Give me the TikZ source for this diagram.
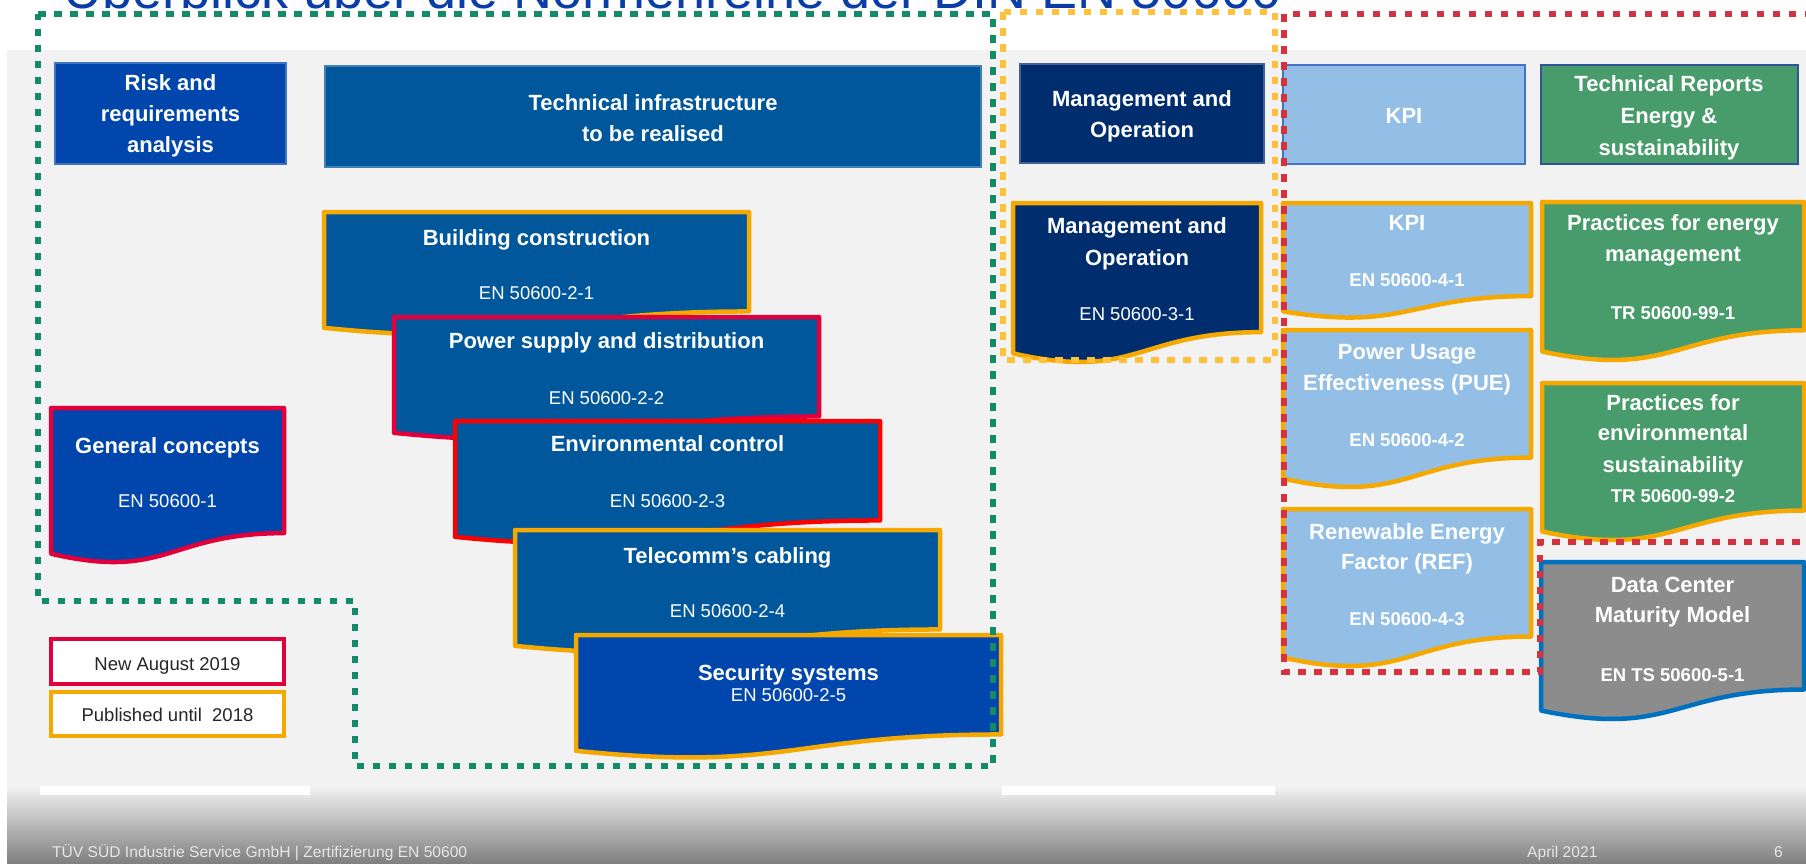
\documentclass[tikz,border=0pt]{standalone}
\usepackage{fontspec}
\setmainfont{Liberation Sans}
\definecolor{cTech}{HTML}{00579B}
\definecolor{cRoyal}{HTML}{0046AD}
\definecolor{cNavy}{HTML}{002D6E}
\definecolor{cLight}{HTML}{93BFE6}
\definecolor{cGreen}{HTML}{489B6A}
\definecolor{cGray}{HTML}{8C8C8C}
\definecolor{cOrange}{HTML}{F5A800}
\definecolor{cCrimson}{HTML}{E2003C}
\definecolor{cRed}{HTML}{FF0000}
\definecolor{cDCBlue}{HTML}{0070C0}
\definecolor{cDotGreen}{HTML}{138A68}
\definecolor{cDotYellow}{HTML}{FFC13B}
\definecolor{cDotRed}{HTML}{D7313F}
\definecolor{cBg}{HTML}{F2F2F2}
\definecolor{cTitle}{HTML}{0A3DA8}
\definecolor{cFootDark}{HTML}{808080}
\definecolor{cFootText}{HTML}{E6E6E6}
\definecolor{cKPIBorder}{HTML}{4472C4}
\definecolor{cTRBorder}{HTML}{2F5597}
\definecolor{cLegText}{HTML}{262626}
% document shape: x y w h options
\newcommand\DocBox[5]{%
  \draw[#5] (#1,#2) -- ({#1+#3},#2) -- ({#1+#3},{#2+0.802*#4})
    .. controls ({#1+0.5*#3},{#2+0.802*#4}) and ({#1+0.5*#3},{#2+1.1075*#4}) ..
    (#1,{#2+0.934*#4}) -- cycle;}
\tikzset{
  docb/.style={line width=4.5pt, line join=round},
  hdrbox/.style={line width=1.5pt},
  tl/.style={text=white, inner sep=0pt, anchor=base, font=\fontsize{22}{26}\selectfont\bfseries},
  cd/.style={text=white, inner sep=0pt, anchor=base, font=\fontsize{18.5}{22}\selectfont},
  cdb/.style={text=white, inner sep=0pt, anchor=base, font=\fontsize{18.5}{22}\selectfont\bfseries},
  legtext/.style={text=cLegText, inner sep=0pt, anchor=base, font=\fontsize{18.5}{22}\selectfont},
  foottext/.style={text=cFootText, inner sep=0pt, anchor=base west, font=\fontsize{15.6}{18}\selectfont},
  dotline/.style={line width=6.5pt, dash pattern=on 7.5pt off 8.5pt},
}
\begin{document}
\begin{tikzpicture}[x=1pt,y=-1pt]
\useasboundingbox (0,0) rectangle (1806,863);
% backgrounds
\fill[white] (0,0) rectangle (1806,863);
\fill[cBg] (7,50) rectangle (1806,787);
\shade[top color=cBg, bottom color=cFootDark] (7,786) rectangle (1806,863);
\fill[white] (40,786) rectangle (310,795);
\fill[white] (1002,786) rectangle (1275,795);
% title (cut at top, as in the slide)
\node[anchor=base west, inner sep=0pt, text=cTitle, font=\fontsize{54}{60}\selectfont] (title) at (63,8) {Überblick über die Normenreihe der DIN EN 50600};
% header row
\draw[hdrbox, fill=cRoyal, draw=cRoyal!75!white] (55,63) rectangle (286,164);
\draw[hdrbox, fill=cTech, draw=cTech!75!white] (325,66) rectangle (981,167);
\draw[hdrbox, fill=cNavy, draw=cNavy!75!white] (1020,64) rectangle (1264,163);
\draw[line width=2.5pt, fill=cLight, draw=cKPIBorder] (1283,65) rectangle (1525,164);
\draw[line width=2.5pt, fill=cGreen, draw=cTRBorder] (1541,65) rectangle (1798,164);
\node[tl] (h1a) at (170.5,90.5) {Risk and};
\node[tl] (h1b) at (170.5,121.5) {requirements};
\node[tl] (h1c) at (170.5,152.5) {analysis};
\node[tl] (h2a) at (653,110) {Technical infrastructure};
\node[tl] (h2b) at (653,141) {to be realised};
\node[tl] (h3a) at (1142,106) {Management and};
\node[tl] (h3b) at (1142,137) {Operation};
\node[tl] (h4) at (1404,123) {KPI};
\node[tl] (h5a) at (1669,91) {Technical Reports};
\node[tl] (h5b) at (1669,123) {Energy \&};
\node[tl] (h5c) at (1669,155) {sustainability};
% technical infrastructure documents
\DocBox{324}{212}{425}{124}{docb, fill=cTech, draw=cOrange}
\node[tl] (b1) at (536.5,245) {Building construction};
\node[cd] (b1c) at (536.5,299) {EN 50600-2-1};
\DocBox{394}{317}{425}{124}{docb, fill=cTech, draw=cCrimson}
\node[tl] (b2) at (606.5,348) {Power supply and distribution};
\node[cd] (b2c) at (606.5,404) {EN 50600-2-2};
\DocBox{455}{421}{425}{124}{docb, fill=cTech, draw=cRed}
\node[tl] (b3) at (667.5,451) {Environmental control};
\node[cd] (b3c) at (667.5,507) {EN 50600-2-3};
\DocBox{515}{530}{425}{124}{docb, fill=cTech, draw=cOrange}
\node[tl] (b4) at (727.5,563) {Telecomm’s cabling};
\node[cd] (b4c) at (727.5,617) {EN 50600-2-4};
\DocBox{576}{635}{425}{124}{docb, fill=cRoyal, draw=cOrange}
\node[tl] (b5) at (788.5,680) {Security systems};
\node[cd] (b5c) at (788.5,701) {EN 50600-2-5};
% general concepts
\DocBox{51}{408}{233}{156}{docb, fill=cRoyal, draw=cCrimson}
\node[tl] (g1) at (167.5,453) {General concepts};
\node[cd] (g1c) at (167.5,507) {EN 50600-1};
% management and operation
\DocBox{1013}{203}{248}{161}{docb, fill=cNavy, draw=cOrange}
\node[tl] (m1a) at (1137,233) {Management and};
\node[tl] (m1b) at (1137,265) {Operation};
\node[cd] (m1c) at (1137,320) {EN 50600-3-1};
% KPI column
\DocBox{1283}{203}{248}{116}{docb, fill=cLight, draw=cOrange}
\node[tl] (k1) at (1407,230) {KPI};
\node[cdb] (k1c) at (1407,286) {EN 50600-4-1};
\DocBox{1283}{330}{248}{159}{docb, fill=cLight, draw=cOrange}
\node[tl] (k2a) at (1407,359) {Power Usage};
\node[tl] (k2b) at (1407,390) {Effectiveness (PUE)};
\node[cdb] (k2c) at (1407,446) {EN 50600-4-2};
\DocBox{1283}{509}{248}{159}{docb, fill=cLight, draw=cOrange}
\node[tl] (k3a) at (1407,539) {Renewable Energy};
\node[tl] (k3b) at (1407,569) {Factor (REF)};
\node[cdb] (k3c) at (1407,625) {EN 50600-4-3};
% technical reports column
\DocBox{1542}{202}{262}{160}{docb, fill=cGreen, draw=cOrange}
\node[tl] (p1a) at (1673,230) {Practices for energy};
\node[tl] (p1b) at (1673,261) {management};
\node[cdb] (p1c) at (1673,319) {TR 50600-99-1};
\DocBox{1542}{383}{262}{159}{docb, fill=cGreen, draw=cOrange}
\node[tl] (p2a) at (1673,410) {Practices for};
\node[tl] (p2b) at (1673,440) {environmental};
\node[tl] (p2c) at (1673,472) {sustainability};
\node[cdb] (p2d) at (1673,502) {TR 50600-99-2};
\DocBox{1541}{562}{263}{159}{docb, fill=cGray, draw=cDCBlue}
\node[tl] (d1a) at (1672.5,592) {Data Center};
\node[tl] (d1b) at (1672.5,622) {Maturity Model};
\node[cdb] (d1c) at (1672.5,681) {EN TS 50600-5-1};
% legend
\draw[line width=4.5pt, fill=white, draw=cCrimson] (51,639) rectangle (284,684);
\node[legtext] (l1) at (167.5,670) {New August 2019};
\draw[line width=4.5pt, fill=white, draw=cOrange] (51,692) rectangle (284,736);
\node[legtext] (l2) at (167.5,721) {Published until\ \ 2018};
% dotted groupings
\draw[dotline, draw=cDotGreen] (38,14) -- (993,14) -- (993,766) -- (355,766) -- (355,601) -- (38,601) -- cycle;
\draw[dotline, draw=cDotYellow] (1003,12) rectangle (1275,360);
\draw[dotline, draw=cDotRed] (1812,14) -- (1284,14) -- (1284,672) -- (1540,672) -- (1540,542) -- (1812,542);
% footer
\node[foottext] (f1) at (52,857) {TÜV SÜD Industrie Service GmbH | Zertifizierung EN 50600};
\node[foottext] (f2) at (1527,857) {April 2021};
\node[foottext] (f3) at (1774,857) {6};
\end{tikzpicture}
\end{document}
